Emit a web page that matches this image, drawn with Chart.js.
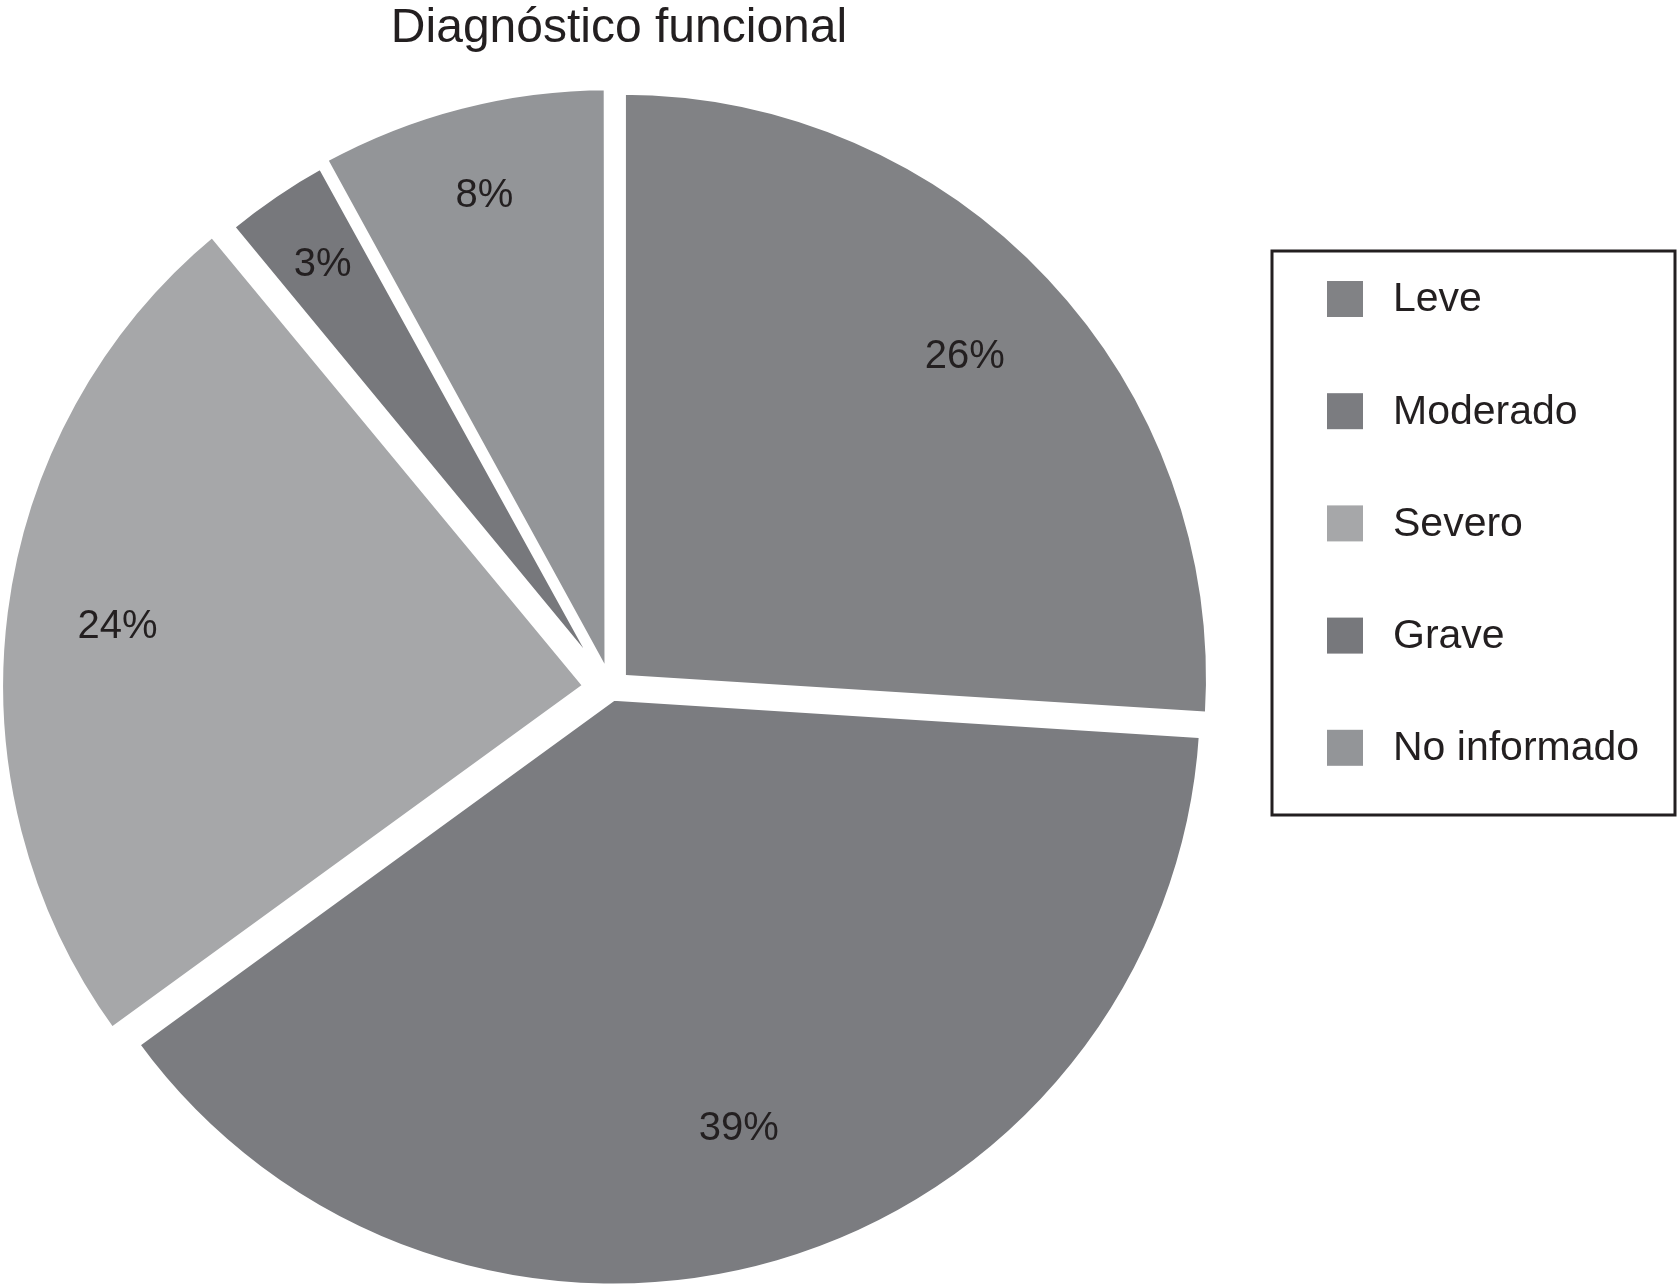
<!DOCTYPE html>
<html><head><meta charset="utf-8">
<script src="https://cdn.jsdelivr.net/npm/chart.js@4.4.0/dist/chart.umd.min.js"></script>
<style>html,body{margin:0;padding:0;background:#fff;} canvas{display:block;}</style>
</head><body>
<canvas id="c" width="1677" height="1284"></canvas>
<script>
const categories = ['Leve', 'Moderado', 'Severo', 'Grave', 'No informado'];
const percentages = [26, 39, 24, 3, 8];
const sliceColors = ['#818285', '#7b7c80', '#a6a7a9', '#77787c', '#939598'];
const chartTitle = 'Diagnóstico funcional';
const explodePx = [15, 8, 24, 6, 10];

const FONT = '"Liberation Sans", Arial, Helvetica, sans-serif';
const TEXT = '#231f20';
const OFFSET_SCALE = 4; // Chart.js v4 divides arc offset by 4 when drawing

const titlePlugin = {
  id: 'plainTitle',
  afterDraw(chart) {
    const ctx = chart.ctx;
    ctx.save();
    ctx.font = '48px ' + FONT;
    ctx.fillStyle = TEXT;
    ctx.textAlign = 'center';
    ctx.textBaseline = 'alphabetic';
    ctx.fillText(chartTitle, 619, 42);
    ctx.restore();
  }
};

const labelPlugin = {
  id: 'pctLabels',
  afterDatasetsDraw(chart) {
    const ctx = chart.ctx;
    const meta = chart.getDatasetMeta(0);
    const total = percentages.reduce((a, b) => a + b, 0);
    ctx.save();
    ctx.font = '40px ' + FONT;
    ctx.fillStyle = TEXT;
    ctx.textAlign = 'center';
    ctx.textBaseline = 'middle';
    meta.data.forEach((arc, i) => {
      const p = arc.getProps(['x', 'y', 'startAngle', 'endAngle', 'outerRadius'], true);
      const mid = (p.startAngle + p.endAngle) / 2;
      const off = (arc.options.offset || 0) / OFFSET_SCALE;
      const frac = percentages[i] / total;
      const d = off + p.outerRadius * (0.87 - 0.27 * frac);
      ctx.fillText(percentages[i] + '%', p.x + Math.cos(mid) * d, p.y + Math.sin(mid) * d);
    });
    ctx.restore();
  }
};

const legendPlugin = {
  id: 'boxLegend',
  afterDraw(chart) {
    const ctx = chart.ctx;
    const left = 1272, top = 251, right = 1675, bottom = 815;
    ctx.save();
    ctx.strokeStyle = TEXT;
    ctx.lineWidth = 3;
    ctx.strokeRect(left, top, right - left, bottom - top);
    const labels = chart.data.labels;
    const colors = chart.data.datasets[0].backgroundColor;
    ctx.font = '41px ' + FONT;
    ctx.textBaseline = 'middle';
    ctx.textAlign = 'left';
    labels.forEach((lab, i) => {
      const cy = 299 + i * 112.2;
      ctx.fillStyle = colors[i];
      ctx.fillRect(1327, cy - 18, 36, 36);
      ctx.fillStyle = TEXT;
      ctx.fillText(lab, 1393, cy + 1);
    });
    ctx.restore();
  }
};

new Chart(document.getElementById('c'), {
  type: 'pie',
  data: {
    labels: categories,
    datasets: [{
      data: percentages,
      backgroundColor: sliceColors,
      borderColor: '#ffffff',
      borderWidth: 8,
      offset: explodePx.map(v => v * OFFSET_SCALE),
      hoverOffset: 0,
      clip: false
    }]
  },
  options: {
    responsive: false,
    animation: false,
    events: [],
    radius: 588,
    layout: { padding: { left: 0, right: 455, top: 94, bottom: 0 } },
    plugins: {
      legend: { display: false },
      tooltip: { enabled: false },
      title: { display: false }
    }
  },
  plugins: [labelPlugin, legendPlugin, titlePlugin]
});
</script>
</body></html>
